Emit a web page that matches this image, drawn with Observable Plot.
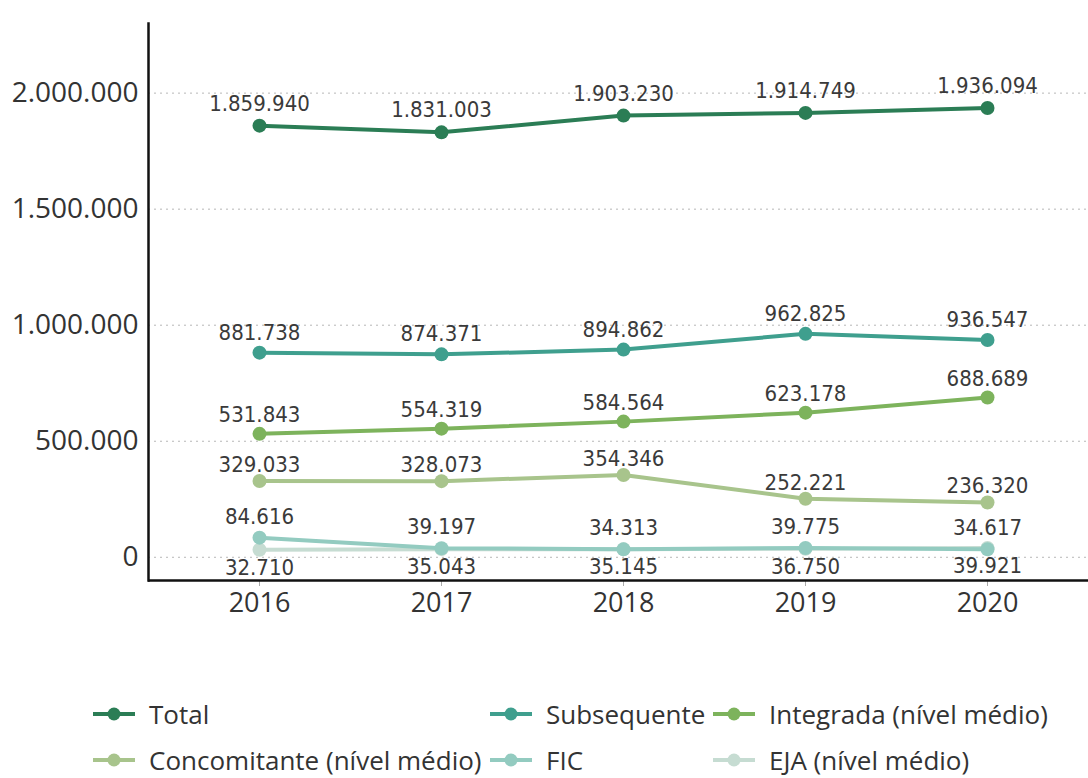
<!DOCTYPE html>
<html>
<head>
<meta charset="utf-8">
<script src="https://cdn.jsdelivr.net/npm/d3@7"></script>
<script src="https://cdn.jsdelivr.net/npm/@observablehq/plot@0.6"></script>
<style>
  body { margin: 0; background: #fff; font-family: "Open Sans", sans-serif; }
  #wrap { position: relative; width: 1088px; height: 778px; overflow: hidden; }
  #legend { position: absolute; left: 0; top: 0; width: 1088px; height: 778px; pointer-events: none; }
  .item { position: absolute; display: flex; align-items: center; font-size: 26px; line-height: 30px; color: #333; white-space: nowrap; }
  .item svg { margin-right: 14px; }
</style>
</head>
<body>
<div id="wrap"><div id="chart"></div><div id="legend"></div></div>
<script>
const years = ["2016", "2017", "2018", "2019", "2020"];
const seriesNames = ["Total", "Subsequente", "Integrada (nível médio)", "Concomitante (nível médio)", "FIC", "EJA (nível médio)"];
const total = [1859940, 1831003, 1903230, 1914749, 1936094];
const subsequente = [881738, 874371, 894862, 962825, 936547];
const integrada = [531843, 554319, 584564, 623178, 688689];
const concomitante = [329033, 328073, 354346, 252221, 236320];
const fic = [84616, 39197, 34313, 39775, 34617];
const eja = [32710, 35043, 35145, 36750, 39921];
const yTicks = [0, 500000, 1000000, 1500000, 2000000];

const colors = ["#2b7d55", "#3f9f8e", "#7db35c", "#a8c48c", "#93cbc0", "#c6dcd2"];
const labelDy = [-22, -20, -19, -16, -21, 18];
const valuesList = [total, subsequente, integrada, concomitante, fic, eja];

const locale = d3.formatLocale({decimal: ",", thousands: ".", grouping: [3], currency: ["", ""]});
const fmt = locale.format(",d");

const data = [];
seriesNames.forEach((s, i) => years.forEach((y, j) => data.push({series: s, year: y, value: valuesList[i][j], idx: i})));

const marks = [
  Plot.gridY(yTicks, {stroke: "#999", strokeOpacity: 0.7, strokeDasharray: "2,4"}),
  Plot.axisY({ticks: yTicks, tickSize: 0, tickPadding: 10, tickFormat: fmt, fontSize: 28, fill: "#333", fontFamily: "Open Sans"}),
  Plot.axisX({tickSize: 6, tickPadding: 6, fontSize: 27, fill: "#333", stroke: "#aaa", fontFamily: "Open Sans"}),
];
for (let i = seriesNames.length - 1; i >= 0; i--) {
  const d = data.filter(r => r.idx === i);
  marks.push(Plot.line(d, {x: "year", y: "value", stroke: colors[i], strokeWidth: 4}));
  marks.push(Plot.dot(d, {x: "year", y: "value", fill: colors[i], r: 7}));
}
for (let i = 0; i < seriesNames.length; i++) {
  const d = data.filter(r => r.idx === i);
  marks.push(Plot.text(d, {x: "year", y: "value", text: r => fmt(r.value), dy: labelDy[i], fontSize: 22, fill: "#3a3a3a", fontFamily: "DejaVu Sans Condensed"}));
}
marks.push(Plot.ruleY([-100000], {stroke: "#111", strokeWidth: 2.5}));
marks.push(Plot.frame({anchor: "left", stroke: "#111", strokeWidth: 2.5}));

const chart = Plot.plot({
  width: 1088,
  height: 650,
  marginLeft: 148,
  marginRight: 0,
  marginTop: 23,
  marginBottom: 70,
  x: {type: "point", domain: years, padding: 0.5753, align: 0.524, label: null},
  y: {domain: [-100000, 2300000], label: null},
  style: {fontFamily: "Open Sans", background: "#fff", overflow: "visible"},
  marks
});
document.getElementById("chart").appendChild(chart);

const legendPos = [[93, 714], [490, 714], [713, 714], [93, 760], [490, 760], [713, 760]];
const legend = document.getElementById("legend");
seriesNames.forEach((s, i) => {
  const div = document.createElement("div");
  div.className = "item";
  div.style.left = legendPos[i][0] + "px";
  div.style.top = (legendPos[i][1] - 15) + "px";
  div.style.height = "30px";
  div.innerHTML = `<svg width="42" height="16"><line x1="0" y1="8" x2="42" y2="8" stroke="${colors[i]}" stroke-width="4"/><circle cx="21" cy="8" r="6.5" fill="${colors[i]}"/></svg><span>${s}</span>`;
  legend.appendChild(div);
});
</script>
</body>
</html>
